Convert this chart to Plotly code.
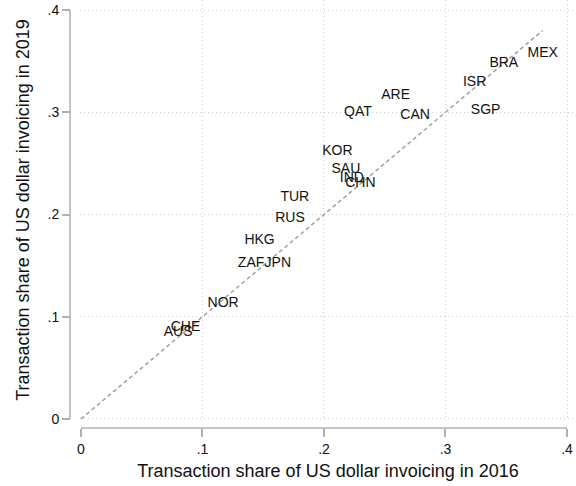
import plotly.graph_objects as go

countries = ["MEX", "BRA", "ISR", "SGP", "ARE", "QAT", "CAN", "KOR", "SAU", "IND",
             "CHN", "TUR", "RUS", "HKG", "ZAF", "JPN", "NOR", "CHE", "AUS"]
share_2016 = [0.380, 0.348, 0.324, 0.333, 0.259, 0.228, 0.275, 0.211, 0.218, 0.223,
              0.230, 0.176, 0.172, 0.147, 0.140, 0.162, 0.117, 0.086, 0.080]
share_2019 = [0.357, 0.348, 0.329, 0.302, 0.316, 0.300, 0.297, 0.262, 0.244, 0.235,
              0.230, 0.217, 0.196, 0.175, 0.152, 0.152, 0.113, 0.089, 0.085]
diag = [0.0, 0.38]
tick_vals = [0, 0.1, 0.2, 0.3, 0.4]
tick_text = ["0", ".1", ".2", ".3", ".4"]
axis_min, axis_max = 0.0, 0.4

FONT = "Liberation Sans, Arial, sans-serif"
AXIS_COL = "#b0b0b0"
GRID_COL = "#cfcfcf"

fig = go.Figure()
fig.add_trace(go.Scatter(
    x=diag, y=diag, mode="lines",
    line=dict(color="#a0a0a0", width=1.5, dash="4px,3px"),
    hoverinfo="skip", showlegend=False,
))
fig.add_trace(go.Scatter(
    x=share_2016, y=share_2019, mode="text", text=countries,
    textposition="middle center",
    textfont=dict(family=FONT, size=14, color="#111111"),
    cliponaxis=False, showlegend=False,
))

axis_common = dict(
    tickvals=tick_vals, ticktext=tick_text,
    showline=False,
    ticks="outside", ticklen=8, tickcolor=AXIS_COL, tickwidth=1.5,
    showgrid=True, gridcolor=GRID_COL, griddash="1px,3px", gridwidth=1,
    zeroline=False, anchor="free", position=0, automargin=False,
    tickfont=dict(family=FONT, size=14, color="#111111"),
)

# axis lines spanning only the labelled range (Stata style)
fig.add_shape(type="line", xref="x", yref="paper", x0=axis_min, x1=axis_max, y0=0, y1=0,
              line=dict(color=AXIS_COL, width=1.5))
fig.add_shape(type="line", xref="paper", yref="y", x0=0, x1=0, y0=axis_min, y1=axis_max,
              line=dict(color=AXIS_COL, width=1.5))

fig.update_layout(
    width=576, height=486,
    margin=dict(l=70, r=0, t=0, b=58),
    paper_bgcolor="white", plot_bgcolor="white",
    font=dict(family=FONT),
    hovermode=False,
    xaxis=dict(
        **axis_common,
        range=[-0.0008, 0.4074],
        domain=[0.01976, 1],
        title=dict(text="Transaction share of US dollar invoicing in 2016",
                   font=dict(family=FONT, size=18, color="#111111"), standoff=8),
    ),
    yaxis=dict(
        **axis_common,
        range=[-0.001, 0.4098],
        domain=[0.01869, 1],
        title=dict(text="Transaction share of US dollar invoicing in 2019",
                   font=dict(family=FONT, size=18, color="#111111"), standoff=12),
    ),
)

fig.write_html("out.html", config={"displayModeBar": False},
               post_script="document.body.style.margin='0';")
